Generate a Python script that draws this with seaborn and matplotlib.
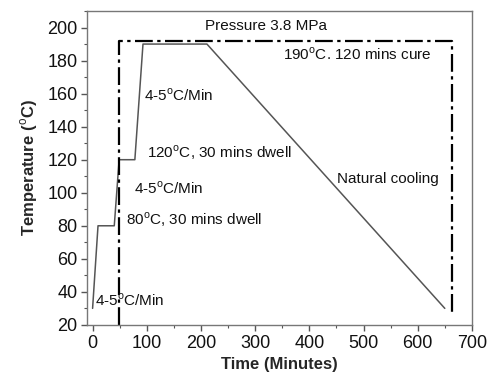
import matplotlib
matplotlib.use("Agg")
import matplotlib.pyplot as plt
import seaborn as sns
import pandas as pd
from matplotlib.ticker import MultipleLocator

# Data
time_min = [0, 10, 40, 49, 78, 93, 211, 650]
temp_c = [30, 80, 80, 120, 120, 190, 190, 30]
press_time = [49, 49, 664, 664]
press_temp = [20, 192, 192, 27]

x_ticks = [0, 100, 200, 300, 400, 500, 600, 700]
y_ticks = [20, 40, 60, 80, 100, 120, 140, 160, 180, 200]

annotations = [
    ("Pressure 3.8 MPa", 320, 201, "center"),
    ("190$^{\\rm o}$C. 120 mins cure", 351, 184, "left"),
    ("4-5$^{\\rm o}$C/Min", 95, 159, "left"),
    ("120$^{\\rm o}$C, 30 mins dwell", 100, 124.5, "left"),
    ("4-5$^{\\rm o}$C/Min", 76, 103, "left"),
    ("80$^{\\rm o}$C, 30 mins dwell", 61, 83.5, "left"),
    ("4-5$^{\\rm o}$C/Min", 4.5, 35, "left"),
    ("Natural cooling", 451, 108.5, "left"),
]

sns.set_theme(style="ticks")
plt.rcParams['font.family'] = ['Liberation Sans', 'DejaVu Sans']
plt.rcParams['mathtext.fontset'] = 'custom'
plt.rcParams['mathtext.rm'] = 'Liberation Sans'

fig = plt.figure(figsize=(4.87, 3.80), dpi=100)
ax = fig.add_axes([0.179, 0.145, 0.790, 0.826])

df = pd.DataFrame({"t": time_min, "T": temp_c})
dp = pd.DataFrame({"t": press_time, "T": press_temp})
sns.lineplot(data=df, x="t", y="T", ax=ax, color="#555555", linewidth=1.1,
             sort=False, estimator=None, errorbar=None)
sns.lineplot(data=dp, x="t", y="T", ax=ax, color="black", linewidth=1.6,
             sort=False, estimator=None, errorbar=None,
             linestyle=(0, (8, 2, 1.5, 2)))

for txt, x, y, ha in annotations:
    ax.text(x, y, txt, ha=ha, va="center", fontsize=11, color="#111111")

ax.set_xlim(-10, 700)
ax.set_ylim(20, 210)
ax.set_xticks(x_ticks)
ax.set_yticks(y_ticks)
ax.xaxis.set_minor_locator(MultipleLocator(50))
ax.yaxis.set_minor_locator(MultipleLocator(10))
ax.tick_params(axis="both", which="major", labelsize=13, length=4, width=1, colors="#555555", labelcolor="#111111", direction="out", pad=3)
ax.tick_params(axis="both", which="minor", length=2.5, width=0.8, colors="#555555", direction="out")
for s in ax.spines.values():
    s.set_color("#777777")
    s.set_linewidth(1.0)

ax.set_xlabel("Time (Minutes)", fontsize=12, fontweight="bold", labelpad=4)
ax.set_ylabel("Temperature ($^{\\rm o}$C)", fontsize=12, fontweight="bold", labelpad=5)

fig.savefig("out.png", dpi=100)
